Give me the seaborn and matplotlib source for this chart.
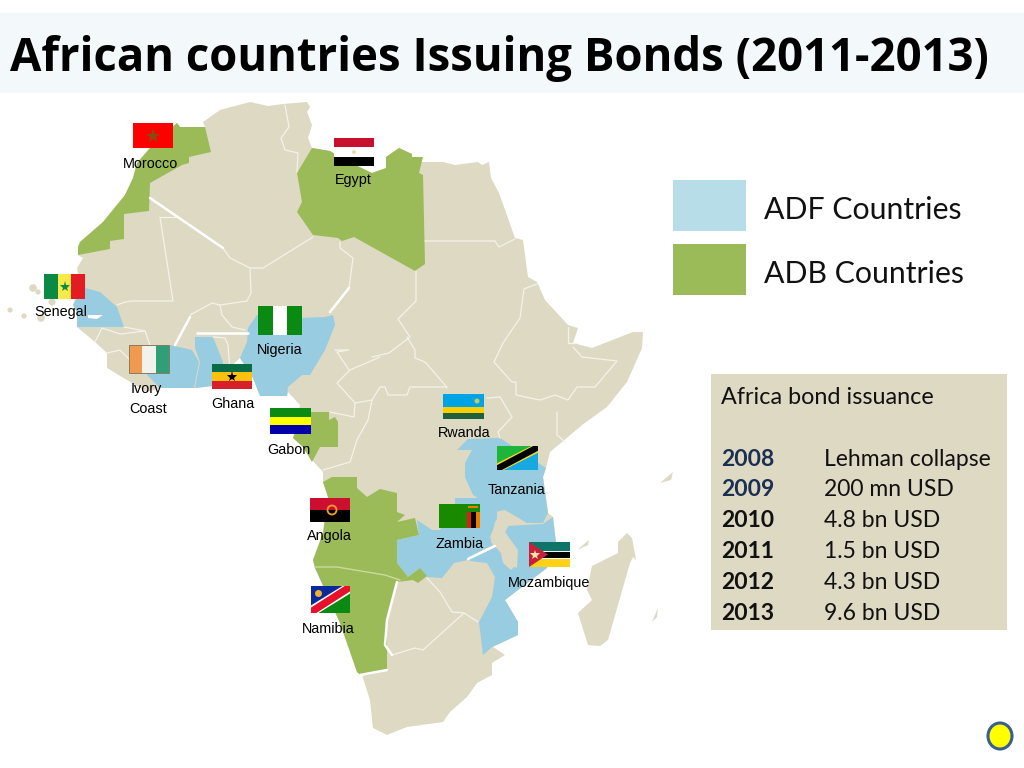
import numpy as np
import pandas as pd
import matplotlib
matplotlib.use('Agg')
import matplotlib.pyplot as plt
import seaborn as sns
from matplotlib.patches import Rectangle, Polygon, Ellipse

# DATA - everything, in picture pixels
TITLE = 'African countries Issuing Bonds (2011-2013)'
LEGEND_LABELS = ['ADF Countries', 'ADB Countries']
TABLE_HEAD = 'Africa bond issuance'
YEARS = ['2008', '2009', '2010', '2011', '2012', '2013']
AMOUNTS = ['Lehman collapse', '200 mn USD', '4.8 bn USD', '1.5 bn USD', '4.3 bn USD', '9.6 bn USD']

LAND = [(177,123),(180,127),(205,127),(203,122),(220,110),(250,102),(268,106),(283,104),(307,102),(310,107),
        (307,112),(312,125),(308,138),(312,148),(330,151),(345,160),(372,173),(386,168),(386,157),(399,148),
        (412,154),(412,157),(423,157),(420,162),(443,162),(455,165),(478,162),(482,165),(489,162),(491,178),
        (499,193),(515,238),(523,240),(528,277),(537,282),(545,300),(568,325),(578,328),(573,343),(592,348),
        (633,332),(643,332),(642,348),(627,382),(607,407),(582,425),(562,442),(550,452),(546,468),(543,477),
        (548,513),(553,517),(556,543),(547,568),(505,600),(518,622),(518,635),(493,647),(505,655),(492,663),
        (492,675),(477,683),(467,697),(450,712),(443,722),(407,727),(387,735),(373,728),(370,700),(362,675),
        (357,672),(340,623),(315,568),(313,560),(323,533),(328,497),(323,482),(323,472),(312,460),(303,447),
        (293,438),(300,405),(288,392),(287,396),(260,396),(253,378),(240,358),(225,372),(222,385),(195,388),
        (160,388),(147,392),(122,377),(107,368),(107,353),(95,342),(77,327),(77,312),(73,305),(80,285),
        (77,268),(83,258),(78,255),(78,247),(80,242),(103,222),(125,195),(133,178),(137,163),(150,148)]
MADAGASCAR = [(627,533),(618,542),(618,553),(592,566),(587,590),(592,600),(578,613),(588,645),(600,646),
              (608,640),(630,563),(633,557),(636,560),(632,538)]
SMALL_ISLANDS = [[(589,540),(577,550),(588,545)], [(673,472),(660,483),(671,480)], [(658,608),(652,622),(657,617)]]
CAPE_VERDE_X = [33, 38, 52, 10, 24, 41]
CAPE_VERDE_Y = [288, 292, 302, 310, 316, 318]
CAPE_VERDE_SIZE = [30, 14, 26, 14, 14, 30]

MOROCCO = [(78,247),(78,255),(110,249),(110,241),(124,239),(124,214),(149,211),(150,183),(182,165),(189,163),
           (189,157),(211,152),(205,127),(180,127),(177,123),(150,148),(137,163),(133,178),(125,195),(103,222),(80,242)]
LIBYA = [(312,148),(297,173),(302,202),(297,212),(313,235),(330,237),(338,238),(342,241),(354,237),(415,271),
         (425,264),(423,175),(419,173),(423,157),(412,157),(412,154),(399,148),(386,157),(386,168),(372,173),(345,160),(330,151)]
GABON = [(310,412),(329,412),(329,420),(335,417),(338,422),(338,447),(320,447),(312,462),(303,447),(293,438),(300,420)]
ANGOLA = [(323,482),(332,477),(357,477),(357,488),(367,497),(380,489),(397,493),(397,512),(405,515),(397,522),
          (415,518),(419,535),(397,540),(397,563),(408,577),(397,582),(387,620),(387,670),(360,675),(357,672),
          (340,623),(315,568),(313,560),(323,533),(328,497)]
CAPRIVI = [(408,577),(420,568),(427,576),(418,583),(413,580),(397,582)]

SENEGAL = [(85,288),(100,292),(117,307),(124,327),(77,327),(77,312),(73,305),(80,292)]
GAMBIA = [(88,315),(103,315),(97,319),(88,318)]
IVORY = [(147,375),(150,345),(170,345),(192,350),(199,362),(194,388),(160,388)]
GHANA = [(195,337),(213,337),(223,362),(222,385),(195,388),(200,362),(195,348)]
NIGERIA = [(257,315),(248,328),(247,342),(240,358),(253,378),(260,396),(287,396),(288,387),(302,375),(310,375),
           (325,350),(335,325),(333,315),(325,317),(300,318)]
ZAMBIA = [(417,520),(419,535),(397,540),(397,563),(408,577),(420,568),(427,577),(442,578),(454,563),(468,560),
          (468,557),(493,545),(490,537),(497,520),(497,512),(478,498),(455,498),(455,505),(440,530),(432,530)]
TANZANIA = [(457,450),(468,439),(500,438),(546,468),(543,477),(548,513),(543,523),(527,523),(505,510),(495,512),
            (478,498),(473,495),(465,477),(465,463),(472,450)]
MOZAMBIQUE = [(553,517),(556,543),(547,568),(505,600),(518,622),(518,635),(492,647),(483,655),(479,622),(492,597),
              (495,577),(487,563),(470,561),(468,557),(495,546),(503,554),(508,565),(517,568),(518,550),(505,532),
              (507,526),(543,524)]
MALAWI = [(502,511),(511,522),(505,532),(516,550),(516,565),(511,570),(503,563),(501,553),(491,542),(495,522)]

THIN_BORDERS = {
    'mali_n': [(160,217),(173,301),(132,301),(125,302),(117,305)],
    'mali_w': [(160,217),(177,217)],
    'algeria_s': [(223,248),(230,258),(250,268),(263,268),(313,237)],
    'mali_e': [(250,268),(251,293),(247,301),(220,305),(212,303),(190,315)],
    'burkina': [(220,305),(222,315),(232,327),(245,330)],
    'tunisia': [(285,105),(289,127),(281,138),(285,150),(298,153),(297,172)],
    'guinea': [(124,327),(145,331),(120,334),(102,328),(95,342)],
    'guinea2': [(145,331),(150,345)],
    'liberia': [(107,353),(120,350),(135,365)],
    'togo': [(213,337),(225,338),(228,345),(230,370)],
    'chad_w': [(340,242),(340,248),(353,258),(349,288),(330,312)],
    'chad_e': [(416,271),(416,301),(398,319),(410,337),(389,353),(372,357)],
    'chad_s': [(380,357),(350,370),(337,383),(355,403),(354,417),(330,412)],
    'cameroon': [(335,350),(349,350),(337,352),(349,370)],
    'egypt_s': [(425,241),(495,241),(499,247),(515,239)],
    'ethiopia': [(537,284),(524,289),(520,318),(503,343),(494,362),(512,382),(516,382),(516,395),(540,400),
                 (555,395),(568,400),(577,387),(595,387),(617,361),(582,357),(573,347)],
    'djibouti': [(568,327),(568,343),(576,343)],
    'sudan_s': [(407,337),(415,350),(415,358),(425,362),(445,385),(447,388)],
    'car_s': [(355,403),(372,400),(380,387),(385,387),(388,395),(407,395),(410,387),(447,387)],
    'congo': [(372,400),(368,420),(357,440),(350,462),(323,470)],
    'uganda': [(487,398),(500,397),(512,417),(498,432),(500,438)],
    'kenya': [(557,412),(557,435),(565,442)],
    'botswana': [(427,578),(440,592),(452,612),(464,613),(478,622)],
    'botswana_s': [(392,655),(415,648),(423,650),(464,613)],
}
THICK_BORDERS = {
    'algeria_w': [(150,198),(223,248)],
    'niger_e': [(349,288),(330,312)],
    'burkina_w': [(190,317),(175,345)],
    'burkina_s': [(197,333),(248,333)],
    'namibia_s': [(387,670),(360,675)],
    'namibia_e': [(397,582),(387,620),(385,645),(392,655)],
    'malawi_w': [(468,559),(495,546)],
}

FLAG_BOXES = {
    'Morocco': (133,123,40,25), 'Egypt': (334,138,40,28), 'Senegal': (44,274,41,25), 'Nigeria': (258,306,44,29),
    'Ivory': (129,345,40,28), 'Ghana': (212,364,40,25), 'Gabon': (270,408,41,26), 'Rwanda': (443,394,41,25),
    'Tanzania': (497,446,41,24), 'Angola': (310,498,40,24), 'Zambia': (439,504,41,24), 'Mozambique': (529,542,41,25),
    'Namibia': (311,586,39,27),
}
MAP_LABELS = [('Morocco',150,168), ('Egypt',353,184), ('Senegal',61,316), ('Nigeria',280,354), ('Ivory',146,393),
              ('Coast',148,413), ('Ghana',233,408), ('Gabon',289,454), ('Rwanda',464,437), ('Tanzania',516,494),
              ('Angola',329,540), ('Zambia',460,548), ('Mozambique',549,587), ('Namibia',328,633)]

LAND_C = '#DDD9C3'
BLUE_C = '#98CCE0'
GREEN_C = '#9BBB59'


def stripes(ax, box, cols, fracs=None):
    x, y, w, h = box
    fracs = fracs or [1 / len(cols)] * len(cols)
    for c, f in zip(cols, fracs):
        ax.add_patch(Rectangle((x, y), w, h * f, fc=c, ec='none', zorder=5))
        y += h * f


def vstripes(ax, box, cols):
    x, y, w, h = box
    for i, c in enumerate(cols):
        ax.add_patch(Rectangle((x + i * w / len(cols), y), w / len(cols), h, fc=c, ec='none', zorder=5))


def diagonal(ax, box, top_c, bot_c, band_c, edge_c, band=0.2, edge=0.28):
    # two corner triangles, with a band going bottom left to top right
    x, y, w, h = box
    ax.add_patch(Polygon([(x, y), (x + w, y), (x, y + h)], fc=top_c, ec='none', zorder=5))
    ax.add_patch(Polygon([(x + w, y + h), (x + w, y), (x, y + h)], fc=bot_c, ec='none', zorder=5))
    for frac, c in [(edge, edge_c), (band, band_c)]:
        d = frac * h
        ax.add_patch(Polygon([(x, y + h), (x, y + h - d), (x + w - d, y), (x + w, y), (x + w, y + d), (x + d, y + h)],
                             fc=c, ec='none', zorder=5.1))


def star(ax, cx, cy, r, c):
    ax.plot([cx], [cy], marker='*', ms=r, color=c, mec=c, mew=0, zorder=6)


sns.set_theme(style='white')
fig, ax = plt.subplots(figsize=(10.24, 7.68), dpi=100)
ax.set_position([0, 0, 1, 1])
ax.set_xlim(0, 1024)
ax.set_ylim(768, 0)
ax.axis('off')

# title band
ax.add_patch(Rectangle((0, 13), 1024, 80, fc='#F3F8FB', ec='none', zorder=0))
ax.text(10, 71, TITLE, family='Open Sans', weight='bold', fontsize=32.8, color='black', va='baseline', zorder=9)

# map
ax.fill(*zip(*LAND), color=LAND_C, lw=0, zorder=1)
ax.fill(*zip(*MADAGASCAR), color=LAND_C, lw=0, zorder=1)
for isl in SMALL_ISLANDS:
    ax.fill(*zip(*isl), color=LAND_C, lw=0, zorder=1)
islands = pd.DataFrame({'x': CAPE_VERDE_X, 'y': CAPE_VERDE_Y, 's': CAPE_VERDE_SIZE})
sns.scatterplot(data=islands, x='x', y='y', size='s', sizes=(14, 30), color=LAND_C, linewidth=0, legend=False, ax=ax, zorder=1)

for poly in [SENEGAL, IVORY, GHANA, NIGERIA, ZAMBIA, TANZANIA, MOZAMBIQUE]:
    ax.fill(*zip(*poly), color=BLUE_C, lw=0, zorder=2)
ax.fill(*zip(*MALAWI), color=LAND_C, lw=0, zorder=2)
ax.fill(*zip(*GAMBIA), color='white', lw=0, zorder=2)
for poly in [MOROCCO, LIBYA, GABON, ANGOLA, CAPRIVI]:
    ax.fill(*zip(*poly), color=GREEN_C, lw=0, zorder=2)


def border_frame(borders):
    rows = []
    for name, pts in borders.items():
        for i, (px, py) in enumerate(pts):
            rows.append({'border': name, 'order': i, 'x': px, 'y': py})
    return pd.DataFrame(rows)


sns.lineplot(data=border_frame(THIN_BORDERS), x='x', y='y', units='border', estimator=None, sort=False,
             color='#F4F3EA', lw=0.9, ax=ax, zorder=3)
sns.lineplot(data=border_frame(THICK_BORDERS), x='x', y='y', units='border', estimator=None, sort=False,
             color='white', lw=1.8, ax=ax, zorder=3)
# the Angola / Namibia border is thin and pale on the green
ax.plot([315, 337, 385, 400], [567, 567, 575, 580], color='#C9DBA0', lw=1, zorder=3)
ax.set_xlim(0, 1024)
ax.set_ylim(768, 0)
ax.set_xlabel('')
ax.set_ylabel('')

# white box behind the Egypt flag
ax.add_patch(Rectangle((334, 138), 40, 28, fc='white', ec='none', zorder=4))

# flags
stripes(ax, FLAG_BOXES['Morocco'], ['#FF0000'])
star(ax, 153, 135.5, 11, '#8A4A10')
stripes(ax, FLAG_BOXES['Egypt'], ['#C8102E', 'white', 'black'])
ax.add_patch(Ellipse((354, 152), 4, 4, fc='#E8DFA0', ec='none', zorder=6))
vstripes(ax, FLAG_BOXES['Senegal'], ['#0B8A45', '#F6E948', '#E31B23'])
star(ax, 64.5, 286.5, 8, '#0B8A45')
vstripes(ax, FLAG_BOXES['Nigeria'], ['#0A8A12', 'white', '#0A8A12'])
vstripes(ax, FLAG_BOXES['Ivory'], ['#F09A50', '#F2F2EC', '#2F9F78'])
ax.add_patch(Rectangle((129, 345), 40, 28, fc='none', ec='#8A7A60', lw=0.7, zorder=6))
stripes(ax, FLAG_BOXES['Ghana'], ['#0A6B47', '#FCC10F', '#D8202A'])
star(ax, 232, 376.5, 8, 'black')
stripes(ax, FLAG_BOXES['Gabon'], ['#0A8A12', '#FFFF00', '#0000AA'])
stripes(ax, FLAG_BOXES['Rwanda'], ['#00A4E4', '#F8D000', '#20603D'], [0.5, 0.25, 0.25])
ax.add_patch(Ellipse((477, 401), 5, 5, fc='#C8C860', ec='none', zorder=6))
diagonal(ax, FLAG_BOXES['Tanzania'], '#1EB53A', '#18A8E0', 'black', '#F0E020')
stripes(ax, FLAG_BOXES['Angola'], ['#CC0F2F', 'black'])
ax.add_patch(Ellipse((332, 510), 9, 9, fc='none', ec='#F0A020', lw=1.3, zorder=6))
stripes(ax, FLAG_BOXES['Zambia'], ['#198A00'])
for i, c in enumerate(['#DE2010', 'black', '#EF7D00']):
    ax.add_patch(Rectangle((467 + i * 4.4, 512), 4.4, 16, fc=c, ec='none', zorder=6))
ax.add_patch(Rectangle((468, 506), 10, 2, fc='#EF7D00', ec='none', zorder=6))
stripes(ax, FLAG_BOXES['Mozambique'], ['#0F7468', 'white', 'black', 'white', '#FCD116'], [0.34, 0.04, 0.24, 0.04, 0.34])
ax.add_patch(Polygon([(529, 542), (548, 554.5), (529, 567)], fc='#C8203C', ec='none', zorder=6))
star(ax, 535, 554.5, 7, '#F5E6A0')
diagonal(ax, FLAG_BOXES['Namibia'], '#0A2A9C', '#0A8A12', '#E8102A', 'white', band=0.2, edge=0.28)
ax.add_patch(Ellipse((318.5, 593.5), 7, 7, fc='#F0B030', ec='none', zorder=6))

for text, lx, ly in MAP_LABELS:
    ax.text(lx, ly, text, family='Liberation Sans', fontsize=10.4, color='black', ha='center', va='baseline', zorder=8)

# legend
ax.add_patch(Rectangle((673, 180), 73, 51, fc='#B7DEE8', ec='none', zorder=2))
ax.add_patch(Rectangle((673, 244), 73, 51, fc=GREEN_C, ec='none', zorder=2))
for lab, ly in zip(LEGEND_LABELS, [219, 283]):
    ax.text(764, ly, lab, family='Lato', fontsize=21.8, color='#111111', va='baseline', zorder=8)

# table box
ax.add_patch(Rectangle((711, 374), 296, 256, fc=LAND_C, ec='none', zorder=2))
ax.text(721, 404, TABLE_HEAD, family='Lato', fontsize=16.8, color='#111111', va='baseline', zorder=8)
for i, (yr, amt) in enumerate(zip(YEARS, AMOUNTS)):
    ly = 465.5 + i * 30.8
    ax.text(721, ly, yr, family='Lato', weight='bold', fontsize=16.5,
            color='#1B2F52' if i < 2 else '#111111', va='baseline', zorder=8)
    ax.text(824, ly, amt, family='Lato', fontsize=16.5, color='#111111', va='baseline', zorder=8)

# yellow dot
ax.add_patch(Ellipse((1000, 736), 24, 26, fc='#FFFF00', ec='#3A6090', lw=2.2, zorder=8))

fig.savefig('out.png', dpi=100)
